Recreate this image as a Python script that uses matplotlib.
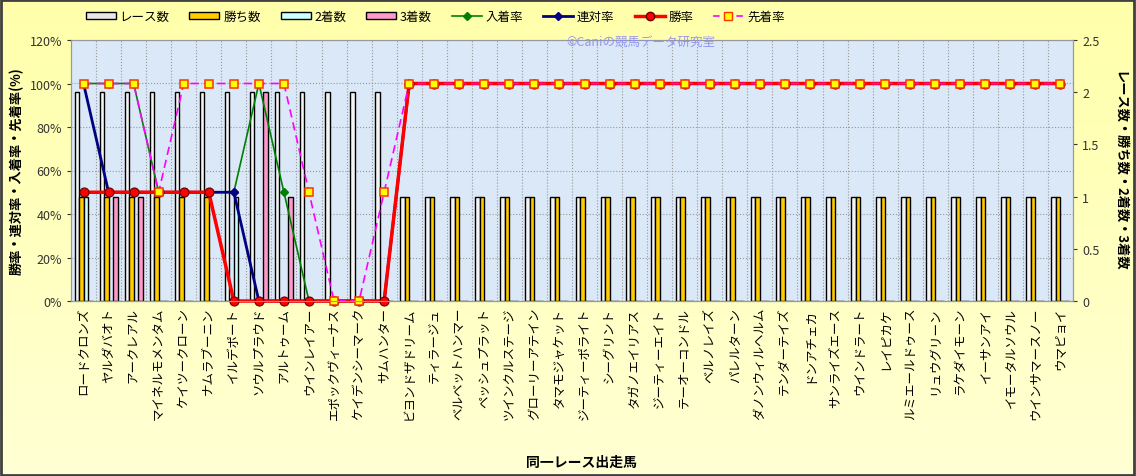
import numpy as np
import matplotlib
matplotlib.use("Agg")
import matplotlib.pyplot as plt
from matplotlib.patches import Patch, Rectangle
from matplotlib.lines import Line2D

plt.rcParams['font.family'] = ['Noto Sans CJK JP', 'DejaVu Sans']

# 出走馬
uma = ["ロードクロンズ", "ヤルダバオト", "アークレアル", "マイネルモメンタム", "ケイツークローン",
       "ナムラブーニン", "イルデポート", "ソウルプラウド", "アルトゥーム", "ウインレイアー",
       "エポックヴィーナス", "ケイデンシーマーク", "サムハンター", "ビヨンドザドリーム", "ティラージュ",
       "ベルベットハンマー", "ペッシュプラット", "ツインクルステージ", "グローリーアテイン", "タマモジャケット",
       "ジーティーポライト", "シーグリント", "タガノエイリアス", "ジーティーエイト", "テーオーコンドル",
       "ベルノレイズ", "パレルターン", "ダノンウィルヘルム", "テンダーテイズ", "ドンアチェカ",
       "サンライズエース", "ウインドラート", "レイピカケ", "ルミエールドゥース", "リュウグリーン",
       "ラケダイモーン", "イーサンアイ", "イモータルソウル", "ウインサマースノー", "ウマピョイ"]

# 件数
race = [2]*13 + [1]*27
win = [1, 1, 1, 1, 1, 1, 0, 0, 0, 0, 0, 0, 0] + [1]*27
second = [1, 0, 0, 0, 0, 0, 1, 0, 0, 0, 0, 0, 0] + [0]*27
third = [0, 1, 1, 0, 0, 0, 0, 2, 1, 0, 0, 0, 0] + [0]*27

# 率 (%)
nyuchaku = [100, 100, 100, 50, 50, 50, 50, 100, 50, 0, 0, 0, 0] + [100]*27
rentai = [100, 50, 50, 50, 50, 50, 50, 0, 0, 0, 0, 0, 0] + [100]*27
shoritsu = [50, 50, 50, 50, 50, 50, 0, 0, 0, 0, 0, 0, 0] + [100]*27
senchaku = [100, 100, 100, 50, 100, 100, 100, 100, 100, 50, 0, 0, 50] + [100]*27

x = np.arange(len(uma))

fig = plt.figure(figsize=(11.36, 4.77), dpi=100)

# 背景のグラデーション
bg = fig.add_axes([0, 0, 1, 1], zorder=-10)
grad = np.linspace(0, 1, 256).reshape(-1, 1)
cmap = matplotlib.colors.LinearSegmentedColormap.from_list("bg", ["#FFFFAA", "#FFFFD4"])
bg.imshow(grad, aspect="auto", cmap=cmap, extent=[0, 1, 0, 1])
bg.axis("off")
fig.patches.append(Rectangle((0.001, 0.002), 0.997, 0.996, transform=fig.transFigure,
                             fill=False, edgecolor="#404040", linewidth=2))

ax2 = fig.add_axes([71/1136, 1-302/477, 1002/1136, 261/477])
ax = ax2.twinx()
ax.yaxis.tick_left()
ax.yaxis.set_label_position("left")
ax2.yaxis.tick_right()
ax2.yaxis.set_label_position("right")
ax.set_zorder(ax2.get_zorder() + 1)
ax.patch.set_visible(False)
ax2.set_facecolor("#DAE8F7")

# グリッド
for p in range(20, 120, 20):
    ax2.axhline(p/120*2.5, color="#999999", linestyle=":", linewidth=0.8, zorder=0)
for i in range(len(uma) - 1):
    ax2.axvline(i + 0.5, color="#999999", linestyle=":", linewidth=0.8, zorder=0)

w = 0.18
ax2.bar(x - 1.5*w, race, w, color="#F4F4F4", edgecolor="black", linewidth=1, zorder=2)
ax2.bar(x - 0.5*w, win, w, color="#FFCC00", edgecolor="black", linewidth=1, zorder=2)
ax2.bar(x + 0.5*w, second, w, color="#CCFFFF", edgecolor="black", linewidth=1, zorder=2)
ax2.bar(x + 1.5*w, third, w, color="#FF99CC", edgecolor="black", linewidth=1, zorder=2)

ax.plot(x, nyuchaku, color="#008000", linewidth=1.2, marker="D", markersize=4.5, clip_on=False)
ax.plot(x, rentai, color="#000080", linewidth=2, marker="D", markersize=4.5, clip_on=False)
ax.plot(x, shoritsu, color="red", linewidth=2.5, marker="o", markersize=6.5,
        markeredgecolor="#600000", markeredgewidth=0.8, clip_on=False)
ax.plot(x, senchaku, color="#FF00FF", linewidth=1.2, linestyle=(0, (5, 3)), marker="s", markersize=5.8,
        markerfacecolor="#FFFF00", markeredgecolor="#FF3300", markeredgewidth=1.1, clip_on=False)

ax.set_xlim(-0.5, len(uma) - 0.5)
ax.set_ylim(0, 120)
ax.set_yticks(range(0, 121, 20))
ax.set_yticklabels([f"{v}%" for v in range(0, 121, 20)])
ax2.set_ylim(0, 2.5)
ax2.set_yticks([0, 0.5, 1, 1.5, 2, 2.5])
ax2.set_yticklabels(["0", "0.5", "1", "1.5", "2", "2.5"])
ax2.set_xticks(x)
ax2.set_xticklabels(uma, rotation=90, va="top", ha="center", fontsize=9)
ax2.tick_params(axis="x", length=0, pad=4)
ax.tick_params(axis="y", labelsize=9, colors="#333333", length=3)
ax2.tick_params(axis="y", labelsize=9, colors="#333333", length=3)

for a in (ax, ax2):
    for s in a.spines.values():
        s.set_color("#999999")
ax2.spines["bottom"].set_color("#666666")

ax.set_ylabel("勝率・連対率・入着率・先着率(%)", fontsize=9.5, fontweight="bold", labelpad=4)
ax2.set_ylabel("レース数・勝ち数・2着数・3着数", fontsize=9.5, fontweight="bold", rotation=-90, labelpad=20)
fig.text(0.512, 0.022, "同一レース出走馬", ha="center", fontsize=10, fontweight="bold")

fig.text(0.499, 0.903, "©Caniの競馬データ研究室", fontsize=9, color="#8C8CF0", alpha=0.9, zorder=20)

handles = [
    Patch(facecolor="#E8E8E8", edgecolor="black", label="レース数"),
    Patch(facecolor="#FFCC00", edgecolor="black", label="勝ち数"),
    Patch(facecolor="#CCFFFF", edgecolor="black", label="2着数"),
    Patch(facecolor="#FF99CC", edgecolor="black", label="3着数"),
    Line2D([], [], color="#008000", linewidth=1.2, marker="D", markersize=4, label="入着率"),
    Line2D([], [], color="#000080", linewidth=2, marker="D", markersize=4, label="連対率"),
    Line2D([], [], color="red", linewidth=2.5, marker="o", markersize=6,
           markeredgecolor="#600000", label="勝率"),
    Line2D([], [], color="#FF00FF", linewidth=1.2, linestyle=(0, (4, 3)), marker="s", markersize=5.5,
           markerfacecolor="#FFFF00", markeredgecolor="#FF3300", label="先着率"),
]
fig.legend(handles=handles, loc="center", bbox_to_anchor=(0.383, 0.963), ncol=8, frameon=False,
           fontsize=9, handlelength=2.4, handleheight=0.5, columnspacing=1.6, handletextpad=0.3)

plt.savefig("out.png", dpi=100)
